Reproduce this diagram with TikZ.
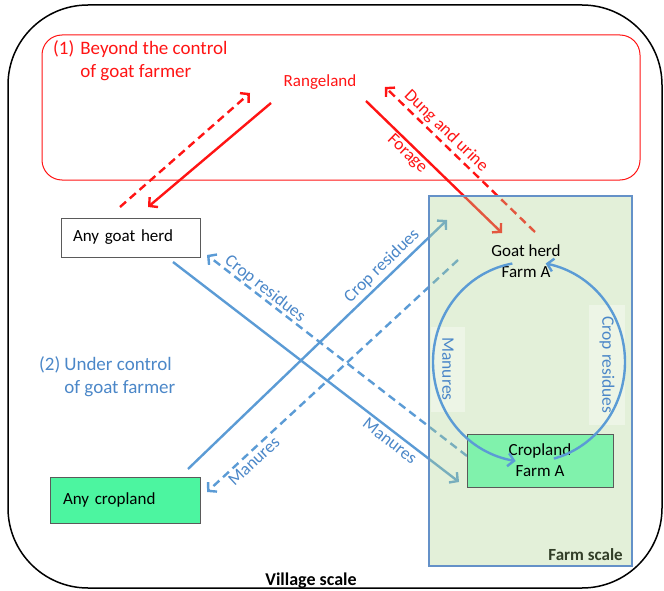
\documentclass[tikz,border=0pt]{standalone}
\usepackage{fontspec}
\setmainfont{Carlito}
\usetikzlibrary{arrows.meta}
\definecolor{myred}{RGB}{255,20,20}
\definecolor{myblue}{RGB}{91,155,213}
\definecolor{txtblue}{RGB}{75,135,200}
\definecolor{farmfill}{RGB}{175,212,145}
\definecolor{farmedge}{RGB}{100,145,200}
\definecolor{cropA}{RGB}{128,242,172}
\definecolor{cropAny}{RGB}{76,245,160}
\definecolor{boxedge}{RGB}{90,90,90}
\definecolor{farmtxt}{RGB}{50,62,40}
\begin{document}
\begin{tikzpicture}[x=1pt,y=-1pt,
  nodetxt/.style={font=\fontsize{17}{21}\selectfont},
  headtxt/.style={font=\fontsize{19}{23}\selectfont, inner sep=0pt, anchor=west},
  lbl/.style={font=\fontsize{17.5}{21}\selectfont, inner sep=1pt},
  redln/.style={draw=myred, line width=2.4pt},
  blueln/.style={draw=myblue, line width=2.4pt},
  dsh/.style={dash pattern=on 8pt off 5pt},
  tipped/.style={-{Straight Barb[length=6pt,width=13pt]}},
  cropbox/.style={draw=boxedge, line width=0.8pt, nodetxt, inner sep=0pt},
]
\useasboundingbox (0,0) rectangle (664,591);

% outer village frame
\draw[black, line width=1.5pt, rounded corners=80pt] (8,5) rectangle (662,588);
% red region
\draw[myred, line width=1pt, rounded corners=20pt] (42,35) rectangle (640,180);

% headings
\node[headtxt, text=myred] (h1) at (53,61.5)
  {\begin{tabular}{@{}l@{\hspace{6pt}}l@{}}(1)&Beyond the control\\&of goat farmer\end{tabular}};
\node[headtxt, text=txtblue] (h2) at (39,377.5)
  {\begin{tabular}{@{}l@{\hspace{4pt}}l@{}}(2)&Under control\\&of goat farmer\end{tabular}};

% nodes
\node[nodetxt, text=myred] (range) at (320,82) {Rangeland};
\node[cropbox, fill=white, minimum width=139pt, minimum height=39pt,
      text width=115pt, align=left] (anyherd) at (130.5,237.5) {Any goat herd};
\node[cropbox, fill=cropAny, minimum width=150pt, minimum height=46pt,
      text width=124pt, align=left] (anycrop) at (125,500) {Any cropland\\[6pt]};

% endpoints
\coordinate (r1s) at (120,207);  \coordinate (r1e) at (250,93);
\coordinate (r2s) at (271,103);  \coordinate (r2e) at (148,207);
\coordinate (r3s) at (366,101);  \coordinate (r3e) at (502,233);
\coordinate (r4s) at (535,232);  \coordinate (r4e) at (385,87);
\coordinate (b1s) at (173,262);  \coordinate (b1e) at (459,482);
\coordinate (b2s) at (467,456);  \coordinate (b2e) at (207,255);
\coordinate (b3s) at (188,469);  \coordinate (b3e) at (447,220);
\coordinate (b4s) at (458,260);  \coordinate (b4e) at (207,492);

% red flows
\draw[redln, dsh, tipped] (r1s) -- (r1e);
\draw[redln, tipped] (r2s) -- (r2e);
\draw[redln, tipped] (r3s) -- (r3e);
\draw[redln, dsh, tipped] (r4s) -- (r4e);

% blue flows
\draw[blueln, tipped] (b1s) -- (b1e);
\draw[blueln, dsh, tipped] (b2s) -- (b2e);
\draw[blueln, tipped] (b3s) -- (b3e);
\draw[blueln, dsh, tipped] (b4s) -- (b4e);

% farm scale box (translucent, on top of flows)
\node[draw=farmedge, line width=1.2pt, fill=farmfill, fill opacity=0.35,
      draw opacity=1, minimum width=203pt, minimum height=370pt, inner sep=0pt]
      (farm) at (530.5,381) {};
\node[font=\bfseries\fontsize{17}{20}\selectfont, text=farmtxt, anchor=east, inner sep=0pt]
      (farmlbl) at (623,555) {Farm scale};

% vertical labels in the farm
\node[lbl, text=txtblue, rotate=-90, fill=white, fill opacity=0.35, text opacity=1,
      minimum width=85pt, minimum height=34pt] (manv) at (448,369) {Manures};
\node[lbl, text=txtblue, rotate=-90, fill=white, fill opacity=0.35, text opacity=1,
      minimum width=120pt, minimum height=36pt] (crv) at (607,365) {Crop residues};

% farm A nodes
\node[nodetxt, align=center] (goatA) at (526,261.5) {Goat herd\\Farm A};
\node[cropbox, fill=cropA, minimum width=146pt, minimum height=53pt, align=center]
      (cropA) at (540,460.5) {Cropland\\Farm A};

% internal cycle
\draw[blueln, tipped] plot[domain=100:262, samples=80]
      ({529+96*cos(\x)},{362-100*sin(\x)});
\draw[blueln, tipped] plot[domain=-75:80, samples=80]
      ({529+96*cos(\x)},{362-100*sin(\x)});

% flow labels
\node[lbl, text=myred, rotate=-44] (lforage) at (407,154) {Forage};
\node[lbl, text=myred, rotate=-44] (ldung) at (446,131) {Dung and urine};
\node[lbl, text=txtblue, rotate=-38] (lcr1) at (265,289) {Crop residues};
\node[lbl, text=txtblue, rotate=44] (lcr2) at (382,266) {Crop residues};
\node[lbl, text=txtblue, rotate=43] (lman1) at (254,461) {Manures};
\node[lbl, text=txtblue, rotate=-38] (lman2) at (390,441) {Manures};

% village label
\node[font=\bfseries\fontsize{18}{21}\selectfont, inner sep=0pt] (village) at (311,581) {Village scale};
\end{tikzpicture}
\end{document}
